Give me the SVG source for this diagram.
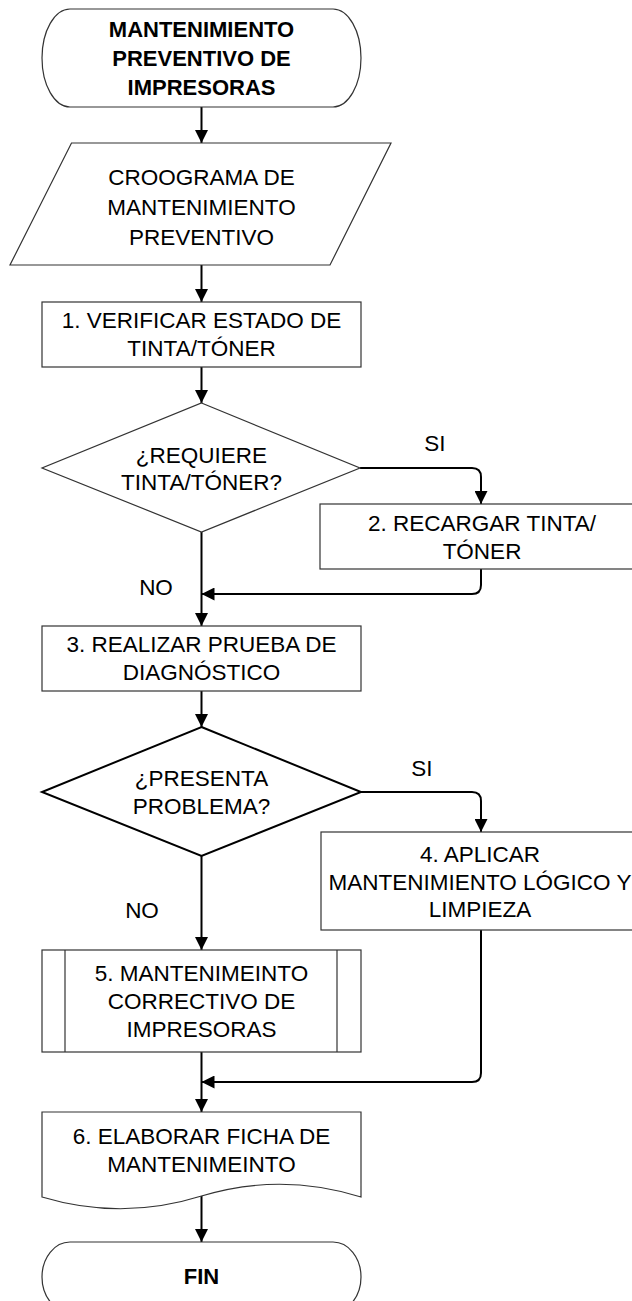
<svg xmlns="http://www.w3.org/2000/svg" width="632" height="1301" viewBox="0 0 632 1301">
<style>
.s{fill:#fff;stroke:#333;stroke-width:1.2}
.d2{fill:#fff;stroke:#000;stroke-width:2}
.t{font-family:"Liberation Sans",Arial,sans-serif;font-size:22.5px;fill:#000;text-anchor:middle}
.b{font-family:"Liberation Sans",Arial,sans-serif;font-size:22px;font-weight:bold;fill:#000;text-anchor:middle}
.c{fill:none;stroke:#000;stroke-width:2}
</style>
<defs>
<marker id="ah" markerUnits="userSpaceOnUse" markerWidth="14" markerHeight="13" refX="13" refY="6.5" orient="auto">
<path d="M0,0 L13,6.5 L0,13 z" fill="#000"/>
</marker>
</defs>
<rect width="632" height="1301" fill="#fff"/>
<g id="connectors">
<path class="c" d="M201.5,107 V143" marker-end="url(#ah)"/>
<path class="c" d="M201.5,265 V302" marker-end="url(#ah)"/>
<path class="c" d="M201.5,367 V403" marker-end="url(#ah)"/>
<path class="c" d="M360,468 H472 Q481,468 481,477 V504" marker-end="url(#ah)"/>
<path class="c" d="M201.5,532 V626" marker-end="url(#ah)"/>
<path class="c" d="M481,569 V585 Q481,594 472,594 H201.5" marker-end="url(#ah)"/>
<path class="c" d="M201.5,691 V727" marker-end="url(#ah)"/>
<path class="c" d="M361,792 H472 Q481,792 481,801 V832" marker-end="url(#ah)"/>
<path class="c" d="M201.5,856 V950" marker-end="url(#ah)"/>
<path class="c" d="M481,930 V1073 Q481,1082 472,1082 H201.5" marker-end="url(#ah)"/>
<path class="c" d="M201.5,1052 V1112" marker-end="url(#ah)"/>
<path class="c" d="M201.5,1195 V1242" marker-end="url(#ah)"/>
</g>
<g id="start">
<path class="s" d="M70,9 H333 A28,49 0 0 1 333,107 H70 A28,49 0 0 1 70,9 Z"/>
<text class="b" x="201.5" y="37">MANTENIMIENTO</text>
<text class="b" x="201.5" y="66">PREVENTIVO DE</text>
<text class="b" x="201.5" y="95">IMPRESORAS</text>
</g>
<g id="cronograma">
<path class="s" d="M71.5,143 H391 L330,265 H10 Z"/>
<text class="t" x="201.5" y="185">CROOGRAMA DE</text>
<text class="t" x="201.5" y="215">MANTENIMIENTO</text>
<text class="t" x="201.5" y="245">PREVENTIVO</text>
</g>
<g id="paso1">
<rect class="s" x="42" y="302" width="319" height="65"/>
<text class="t" x="201.5" y="327.5">1. VERIFICAR ESTADO DE</text>
<text class="t" x="201.5" y="355.5">TINTA/TÓNER</text>
</g>
<g id="decision1">
<path class="s" d="M201.5,403 L360,468 L201.5,532 L42,468 Z"/>
<text class="t" x="201.5" y="463">¿REQUIERE</text>
<text class="t" x="201.5" y="490">TINTA/TÓNER?</text>
</g>
<text class="t" x="435" y="451">SI</text>
<g id="paso2">
<rect class="s" x="320" y="504" width="322" height="65"/>
<text class="t" x="482" y="530.5">2. RECARGAR TINTA/</text>
<text class="t" x="482" y="558.5">TÓNER</text>
</g>
<text class="t" x="156" y="595">NO</text>
<g id="paso3">
<rect class="s" x="42" y="626" width="319" height="65"/>
<text class="t" x="201.5" y="652">3. REALIZAR PRUEBA DE</text>
<text class="t" x="201.5" y="680">DIAGNÓSTICO</text>
</g>
<g id="decision2">
<path class="d2" d="M201.5,727 L361,792 L201.5,856 L42,792 Z"/>
<text class="t" x="201.5" y="786">¿PRESENTA</text>
<text class="t" x="201.5" y="814">PROBLEMA?</text>
</g>
<text class="t" x="422" y="776">SI</text>
<g id="paso4">
<rect class="s" x="321" y="832" width="320" height="98"/>
<text class="t" x="480" y="861.5">4. APLICAR</text>
<text class="t" x="480" y="889.5">MANTENIMIENTO LÓGICO Y</text>
<text class="t" x="480" y="917">LIMPIEZA</text>
</g>
<text class="t" x="142" y="918">NO</text>
<g id="paso5">
<rect class="s" x="42" y="950" width="319" height="102"/>
<line class="s" x1="65" y1="950" x2="65" y2="1052"/>
<line class="s" x1="337" y1="950" x2="337" y2="1052"/>
<text class="t" x="201.5" y="980.5">5. MANTENIMEINTO</text>
<text class="t" x="201.5" y="1008.5">CORRECTIVO DE</text>
<text class="t" x="201.5" y="1036.5">IMPRESORAS</text>
</g>
<g id="paso6">
<path class="s" d="M42,1112 H361 V1197 Q281,1172 201.5,1196 Q122,1221 42,1197 Z"/>
<text class="t" x="201.5" y="1144">6. ELABORAR FICHA DE</text>
<text class="t" x="201.5" y="1172">MANTENIMEINTO</text>
</g>
<g id="fin">
<path class="s" d="M70,1242 H333 A28,35 0 0 1 333,1312 H70 A28,35 0 0 1 70,1242 Z"/>
<text class="b" x="201.5" y="1284">FIN</text>
</g>
</svg>
